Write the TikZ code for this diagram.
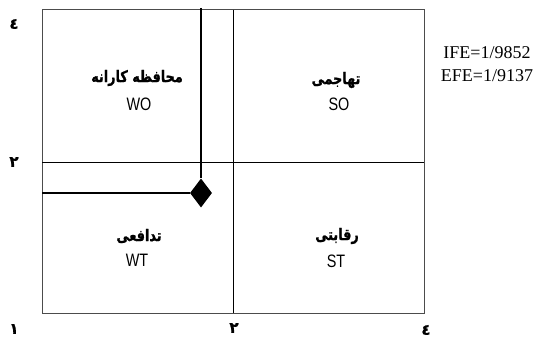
\documentclass[tikz,border=0pt]{standalone}
\usepackage{fontspec}
\setmainfont{Liberation Serif}
\setsansfont{Liberation Sans}
\newfontfamily\arabicfont[Script=Arabic, BoldFeatures={FakeBold=1.2}]{DejaVu Sans}
\TeXXeTstate=1
\usetikzlibrary{shapes.geometric}
\newcommand{\etroit}[1]{\scalebox{0.8}[1]{#1}}
\tikzset{
  fa/.style={font=\fontsize{16}{18}\selectfont\arabicfont\bfseries},
  en/.style={font=\fontsize{18}{20}\selectfont\sffamily},
  num/.style={font=\fontsize{15}{17}\selectfont\arabicfont\bfseries}
}
\begin{document}
\begin{tikzpicture}[x=1pt,y=-1pt]
  \useasboundingbox (0,0) rectangle (533,337);
  % Le cadre
  \draw[line width=1pt, black!70] (42,10) rectangle (424,313);
  \draw[line width=0.9pt] (233,10) -- (233,313);
  \draw[line width=0.9pt] (42,162) -- (424,162);

  % Le point
  \coordinate (haut) at (201,8);
  \coordinate (gauche) at (42,193);
  \node[diamond, fill, aspect=0.76, minimum width=22pt, minimum height=29pt, inner sep=0pt] (pt) at (201,193) {};
  \draw[line width=1.6pt] (haut) -- (pt.north);
  \draw[line width=1.6pt] (gauche) -- (pt.west);

  % Les quadrants
  \node[fa] (wo) at (137,78) {\etroit{\beginR محافظه کارانه\endR}};
  \node[en] (wol) at (139,104) {\etroit{WO}};
  \node[fa] (so) at (336,80) {\etroit{\beginR تهاجمی\endR}};
  \node[en] (sol) at (339,104) {\etroit{SO}};
  \node[fa] (wt) at (139,236) {\etroit{\beginR تدافعی\endR}};
  \node[en] (wtl) at (137,260) {\etroit{WT}};
  \node[fa] (st) at (337,236) {\etroit{\beginR رقابتی\endR}};
  \node[en] (stl) at (336,261) {\etroit{ST}};

  % Les axes
  \node[num] (y4) at (14,24) {٤};
  \node[num] (y2) at (14,162) {٢};
  \node[num] (x1) at (14,329) {١};
  \node[num] (x2) at (234,328) {٢};
  \node[num] (x4) at (426,330) {٤};

  % Les valeurs
  \node[font=\fontsize{18}{23}\selectfont, align=center] (val) at (487,64) {IFE=1/9852\\EFE=1/9137};
\end{tikzpicture}
\end{document}
